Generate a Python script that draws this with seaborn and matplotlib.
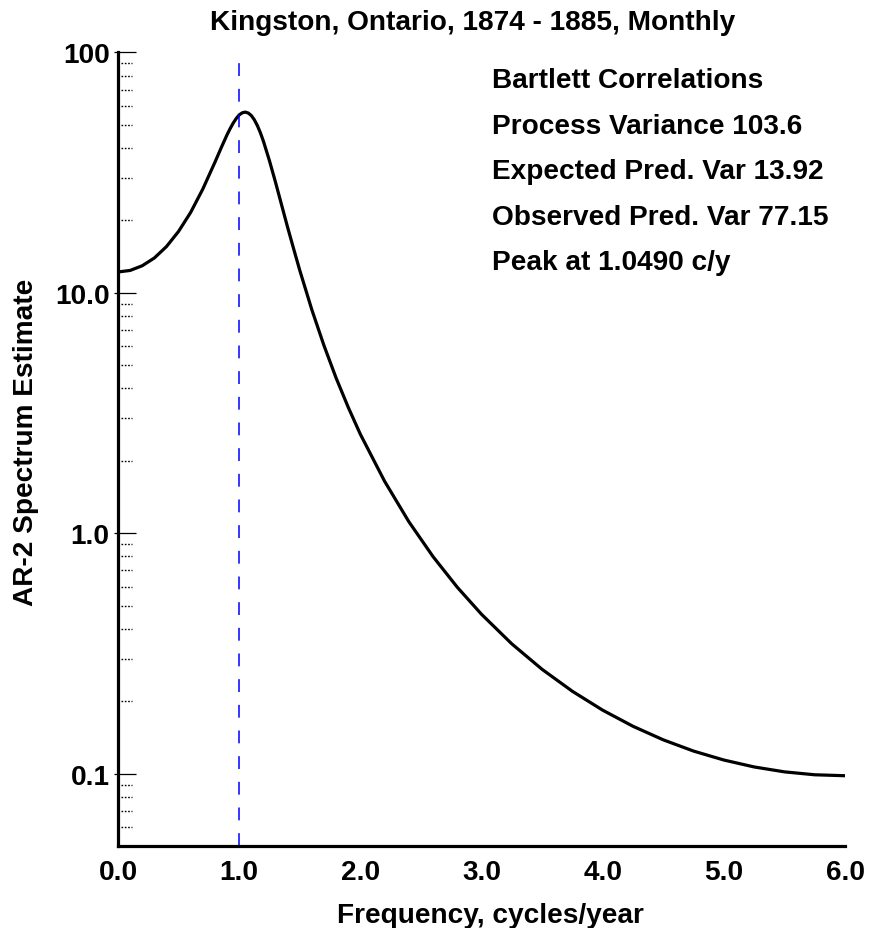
import matplotlib
matplotlib.use("Agg")
import matplotlib.pyplot as plt
import matplotlib.transforms as mtransforms
import seaborn as sns
import pandas as pd

# AR-2 spectrum estimate, Kingston monthly series (frequency in cycles/year)
freq = [0.0, 0.1, 0.2, 0.3, 0.4, 0.5, 0.6, 0.7, 0.8, 0.85, 0.9, 0.925, 0.95,
        0.975, 1.0, 1.025, 1.05, 1.075, 1.1, 1.125, 1.15, 1.175, 1.2, 1.25,
        1.3, 1.35, 1.4, 1.45, 1.5, 1.6, 1.7, 1.8, 1.9, 2.0, 2.2, 2.4, 2.6,
        2.8, 3.0, 3.25, 3.5, 3.75, 4.0, 4.25, 4.5, 4.75, 5.0, 5.25, 5.5,
        5.75, 6.0]
spectrum = [12.2, 12.38, 12.95, 13.95, 15.56, 18.0, 21.6, 27.0, 34.9, 39.9,
            45.4, 48.1, 50.7, 52.98, 54.9, 56.0, 56.4, 55.9, 54.6, 52.4,
            49.6, 46.3, 42.7, 35.4, 28.8, 23.2, 18.7, 15.2, 12.4, 8.49,
            6.03, 4.42, 3.34, 2.58, 1.645, 1.117, 0.799, 0.596, 0.460,
            0.3465, 0.2715, 0.220, 0.1836, 0.1574, 0.1382, 0.1241, 0.1139,
            0.1066, 0.1017, 0.0989, 0.098]

annual_freq = 1.0
x_ticks = [0, 1, 2, 3, 4, 5, 6]
x_tick_labels = ["0.0", "1.0", "2.0", "3.0", "4.0", "5.0", "6.0"]
y_ticks = [0.1, 1.0, 10.0, 100.0]
y_tick_labels = ["0.1", "1.0", "10.0", "100"]
info_lines = ["Bartlett Correlations",
              "Process Variance 103.6",
              "Expected Pred. Var 13.92",
              "Observed Pred. Var 77.15",
              "Peak at 1.0490 c/y"]

title = "Kingston, Ontario, 1874 - 1885, Monthly"
xlabel = "Frequency, cycles/year"
ylabel = "AR-2 Spectrum Estimate"

sns.set_style("white")
plt.rcParams["font.family"] = ["Liberation Sans", "DejaVu Sans"]
plt.rcParams["font.weight"] = "bold"
plt.rcParams["text.color"] = "black"
plt.rcParams["axes.labelcolor"] = "black"
plt.rcParams["xtick.color"] = "black"
plt.rcParams["ytick.color"] = "black"

W, H = 871, 929
fig = plt.figure(figsize=(W / 100, H / 100), dpi=100)
ax = fig.add_axes([118 / W, 1 - 847 / H, (845 - 118) / W, (847 - 53.3) / H])

df = pd.DataFrame({"freq": freq, "spectrum": spectrum})
sns.lineplot(data=df, x="freq", y="spectrum", ax=ax, color="black",
             linewidth=2.3, sort=True, solid_joinstyle="round")

ax.axvline(annual_freq, color="#0000ff", linewidth=1.1, dashes=(8.4, 8.4))

ax.set_yscale("log")
ax.set_xlim(0, 6)
ax.set_ylim(0.05, 100)

for side in ("top", "right"):
    ax.spines[side].set_visible(False)
for side in ("left", "bottom"):
    ax.spines[side].set_linewidth(2.3)
    ax.spines[side].set_color("black")

fs = 20.2
ax.set_xticks(x_ticks)
ax.set_xticklabels(x_tick_labels, fontsize=fs, fontweight="bold",
                   color="black")
ax.tick_params(axis="x", which="major", direction="in", length=11.5,
               width=0.9, color="black", pad=9.5)

ax.set_yticks(y_ticks)
ax.set_yticklabels(y_tick_labels, fontsize=fs, fontweight="bold",
                   color="black")
ax.yaxis.set_minor_locator(matplotlib.ticker.NullLocator())
ax.tick_params(axis="y", which="major", length=0, pad=6)

# y tick marks: solid majors crossing the axis, dotted minors inside
trans = mtransforms.blended_transform_factory(ax.transAxes, ax.transData)
for v in y_ticks:
    ax.plot([-0.0055, 0.0248], [v, v], transform=trans, color="black",
            linewidth=0.9, clip_on=False, solid_capstyle="butt")
for decade in [0.01, 0.1, 1.0, 10.0]:
    for m in range(2, 10):
        v = m * decade
        if 0.05 < v < 100:
            ax.plot([0.0041, 0.0193], [v, v], transform=trans, color="black",
                    linewidth=1.0, linestyle=(0, (1.2, 1.2)), clip_on=False)

ax.set_xlabel("")
ax.set_ylabel("")

fig.text(473 / W, 1 - 30 / H, title, ha="center", va="baseline",
         fontsize=fs, fontweight="bold", color="black")
fig.text(490 / W, 1 - 923 / H, xlabel, ha="center", va="baseline",
         fontsize=fs, fontweight="bold", color="black")
fig.text(26 / W, 1 - 442 / H, ylabel, ha="center", va="center",
         rotation=90, fontsize=fs, fontweight="bold", color="black")

for i, line in enumerate(info_lines):
    fig.text(492 / W, 1 - (88.3 + 45.5 * i) / H, line, ha="left",
             va="baseline", fontsize=fs, fontweight="bold", color="black")

fig.savefig("out.png", dpi=100)
